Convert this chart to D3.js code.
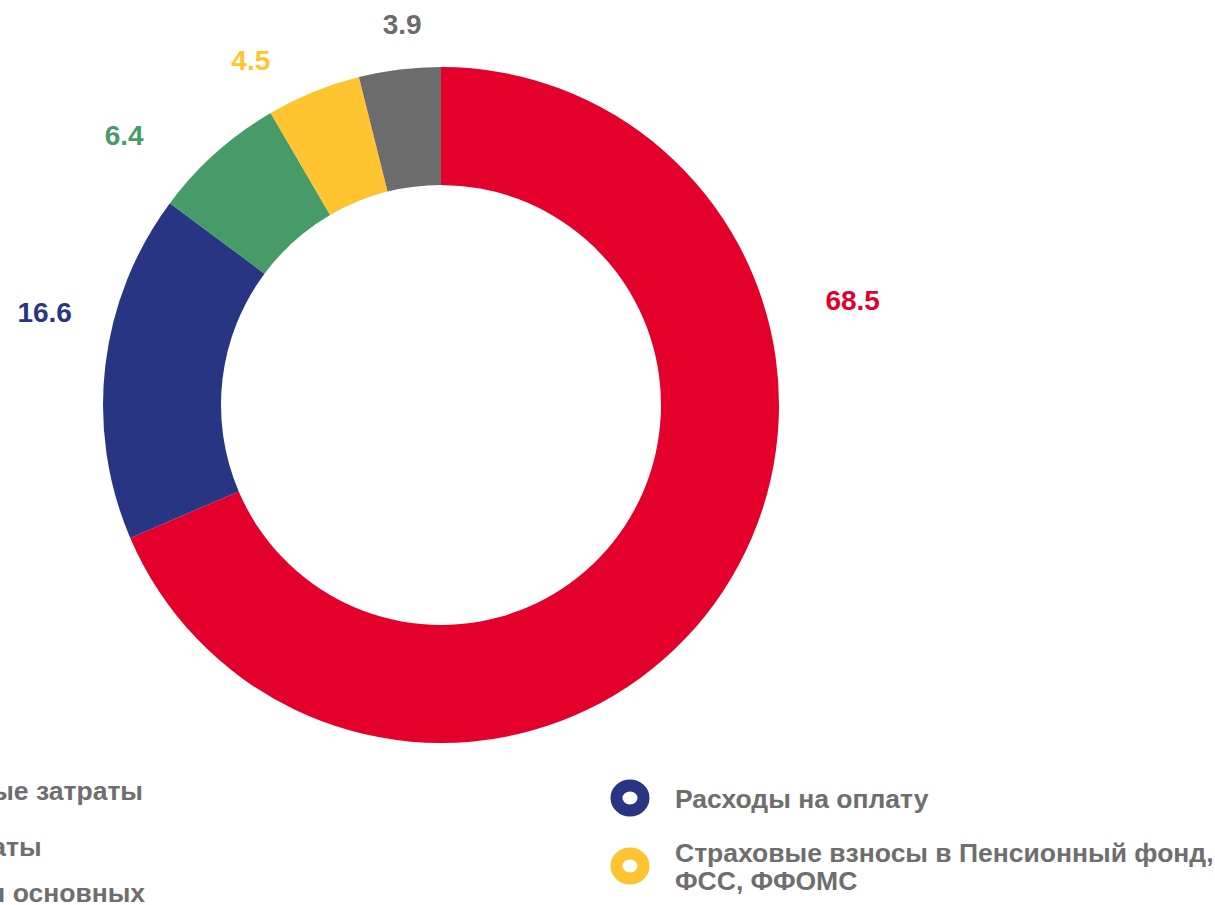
<!DOCTYPE html>
<html>
<head>
<meta charset="utf-8">
<script src="https://cdn.jsdelivr.net/npm/d3@7"></script>
<style>
  html, body { margin: 0; padding: 0; background: #fff; overflow: hidden; }
  svg { display: block; font-family: "Liberation Sans", Arial, sans-serif; font-weight: bold; }
</style>
</head>
<body>
<div id="chart"></div>
<script>
// Data
const categories = [
    'Материальные затраты',
    'Расходы на оплату',
    'Прочие затраты',
    'Страховые взносы в Пенсионный фонд, ФСС, ФФОМС',
    'Амортизация основных средств'
];
const values = [68.5, 16.6, 6.4, 4.5, 3.9];
const valueLabels = ['68.5', '16.6', '6.4', '4.5', '3.9'];
const legendLines = [
    ['Материальные затраты'],
    ['Расходы на оплату'],
    ['Прочие затраты'],
    ['Страховые взносы в Пенсионный фонд,', 'ФСС, ФФОМС'],
    ['Амортизация основных', 'средств']
];
const colors = ['#e3002b', '#283583', '#469b69', '#ffc430', '#6c6c6c'];

// Layout
const width = 1215, height = 905;
const cx = 441, cy = 405;
const outerR = 338, innerR = 220;
// label placement: [angle shift in degrees from slice middle, distance from centre]
const labelShift = [[-47.8, 425], [6.4, 407], [-7.8, 416], [-6.7, 394], [1.2, 383]];
const textColor = '#6e6e6e';
const legendFont = 26.5;
const valueFont = 28;

const svg = d3.select('#chart')
    .append('svg')
    .attr('width', width)
    .attr('height', height);

const pie = d3.pie().sort(null).value(d => d);
const arcs = pie(values);
const arc = d3.arc().innerRadius(innerR).outerRadius(outerR);

const g = svg.append('g').attr('transform', `translate(${cx},${cy})`);

g.selectAll('path.slice')
    .data(arcs)
    .join('path')
    .attr('class', 'slice')
    .attr('d', arc)
    .attr('fill', (d, i) => colors[i]);

// Value labels
g.selectAll('text.value')
    .data(arcs)
    .join('text')
    .attr('class', 'value')
    .attr('transform', (d, i) => {
        const a = (d.startAngle + d.endAngle) / 2 + labelShift[i][0] * Math.PI / 180;
        const r = labelShift[i][1];
        return `translate(${r * Math.sin(a)},${-r * Math.cos(a)})`;
    })
    .attr('text-anchor', 'middle')
    .attr('dy', '0.36em')
    .attr('fill', (d, i) => colors[i])
    .style('font-size', valueFont + 'px')
    .text((d, i) => valueLabels[i]);

// Legend, two columns (left column runs off the page)
const colMarkerX = [null, 630];
const colTextX = [null, 675];
const rowTop = [[800, 856, 902], [808, 862]];   // first baseline of each item per column
const lineGap = 28;

// left column: align so that the first entry ends at x = 143
const probe = svg.append('text').style('font-size', legendFont + 'px').text(legendLines[0][0]);
colTextX[0] = 143 - probe.node().getComputedTextLength();
colMarkerX[0] = colTextX[0] - 45;
probe.remove();

const legend = svg.append('g').attr('class', 'legend');
categories.forEach((name, i) => {
    const col = i % 2;
    const row = Math.floor(i / 2);
    const base = rowTop[col][row];
    const lines = legendLines[i];
    const item = legend.append('g').attr('class', 'legend-item');

    const centreY = base - 10 + (lines.length - 1) * lineGap / 2;
    item.append('ellipse')
        .attr('cx', colMarkerX[col])
        .attr('cy', centreY)
        .attr('rx', 13.5)
        .attr('ry', 12.5)
        .attr('fill', '#fff')
        .attr('stroke', colors[i])
        .attr('stroke-width', 12);

    const t = item.append('text')
        .attr('x', colTextX[col])
        .attr('y', base)
        .attr('fill', textColor)
        .style('font-size', legendFont + 'px');
    t.selectAll('tspan')
        .data(lines)
        .join('tspan')
        .attr('x', colTextX[col])
        .attr('dy', (d, k) => k === 0 ? 0 : lineGap)
        .text(d => d);
});
</script>
</body>
</html>
